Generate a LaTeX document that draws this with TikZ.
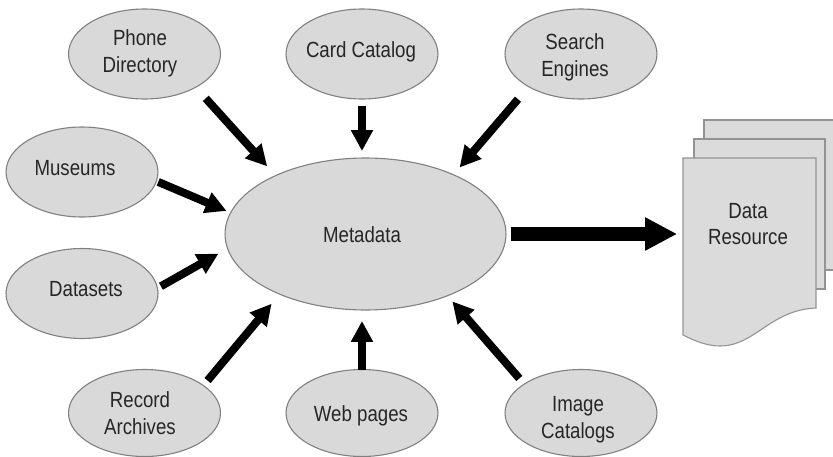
\documentclass[tikz,border=0pt]{standalone}
\usepackage{fontspec}
\setmainfont[FakeStretch=0.85]{Liberation Sans}
\usetikzlibrary{shapes.geometric,arrows.meta}
\definecolor{blobfill}{HTML}{D9D9D9}
\definecolor{blobline}{HTML}{808080}
\begin{document}
\begin{tikzpicture}[x=0.02cm,y=-0.02cm,
  blob/.style={ellipse,draw=blobline,fill=blobfill,line width=.022cm,inner sep=0pt,outer sep=0pt,minimum width=3.04cm,minimum height=1.8cm},
  tag/.style={font=\fontsize{12.5}{15.2}\selectfont,text=black!85,align=center,inner sep=0pt},
  sheet/.style={draw=blobline!85,fill=blobfill!95,line width=.022cm},
  feed/.style={line width=.16cm,-{Triangle[length=.42cm,width=.42cm]}}]
\path[use as bounding box,clip] (0,0) rectangle (833,457);
\draw[sheet] (704,270) -- (704,120) -- (840,120) -- (840,270) -- cycle;
\draw[sheet] (694,289) -- (694,139) -- (825,139) -- (825,289) -- cycle;
\draw[sheet] (683,335) -- (683,158) -- (816,158) -- (816,308) .. controls (770,310) and (755,346) .. (720,346) .. controls (707,346) and (695,341) .. (683,335) -- cycle;
\node [tag,minimum width=2.66cm] (resource) at (748,224) {Data\\Resource};
\node [blob,minimum width=5.62cm,minimum height=3.04cm,label={[tag,xshift=-.07cm,yshift=-.02cm]center:Metadata}] (meta) at (365.5,234) {};
\node [blob,label={[tag,xshift=-.09cm,yshift=.01cm]center:Phone\\Directory}] (phone) at (144.5,54) {};
\node [blob,label={[tag,xshift=-.02cm,yshift=.05cm]center:Card Catalog}] (card) at (362,54) {};
\node [blob,label={[tag,xshift=-.12cm,yshift=-.06cm]center:Search\\Engines}] (search) at (581,54) {};
\node [blob,label={[tag,xshift=-.14cm,yshift=.08cm]center:Museums}] (museums) at (82,172) {};
\node [blob,label={[tag,xshift=.08cm,yshift=.09cm]center:Datasets}] (datasets) at (82,293.5) {};
\node [blob,minimum height=1.74cm,label={[tag,xshift=-.09cm]center:Record\\Archives}] (record) at (144.5,413) {};
\node [blob,minimum height=1.74cm,label={[tag,xshift=-.02cm,yshift=-.06cm]center:Web pages}] (web) at (362,413) {};
\node [blob,minimum height=1.74cm,label={[tag,xshift=-.06cm,yshift=-.13cm]center:Image\\Catalogs}] (image) at (581,413) {};
\draw[feed,shorten <=.3cm,shorten >=.25cm] (phone.-33.8) -- (meta.147.7);
\draw[feed,shorten <=.14cm,shorten >=.14cm] (card.south) -- (card.south |- meta.north);
\draw[feed,shorten <=.33cm,shorten >=.19cm] (search.212.1) -- (meta.34.8);
\draw[feed,shorten <=.04cm,shorten >=.09cm] (museums.-7.8) -- (meta.171.5);
\draw[feed,shorten <=.08cm,shorten >=.21cm] (datasets.4.2) -- (meta.186.7);
\draw[feed,shorten <=.13cm,shorten >=.25cm] (record.25.7) -- (meta.215.3);
\draw[feed,shorten >=.22cm] (web.north) -- (web.north |- meta.south);
\draw[feed,shorten <=.15cm,shorten >=.15cm] (image.153.5) -- (meta.-37.7);
\draw[line width=.28cm,-{Triangle[length=.64cm,width=.62cm]},shorten <=.1cm,shorten >=.08cm] (meta.east) -- (meta.east -| resource.west);
\end{tikzpicture}
\end{document}
